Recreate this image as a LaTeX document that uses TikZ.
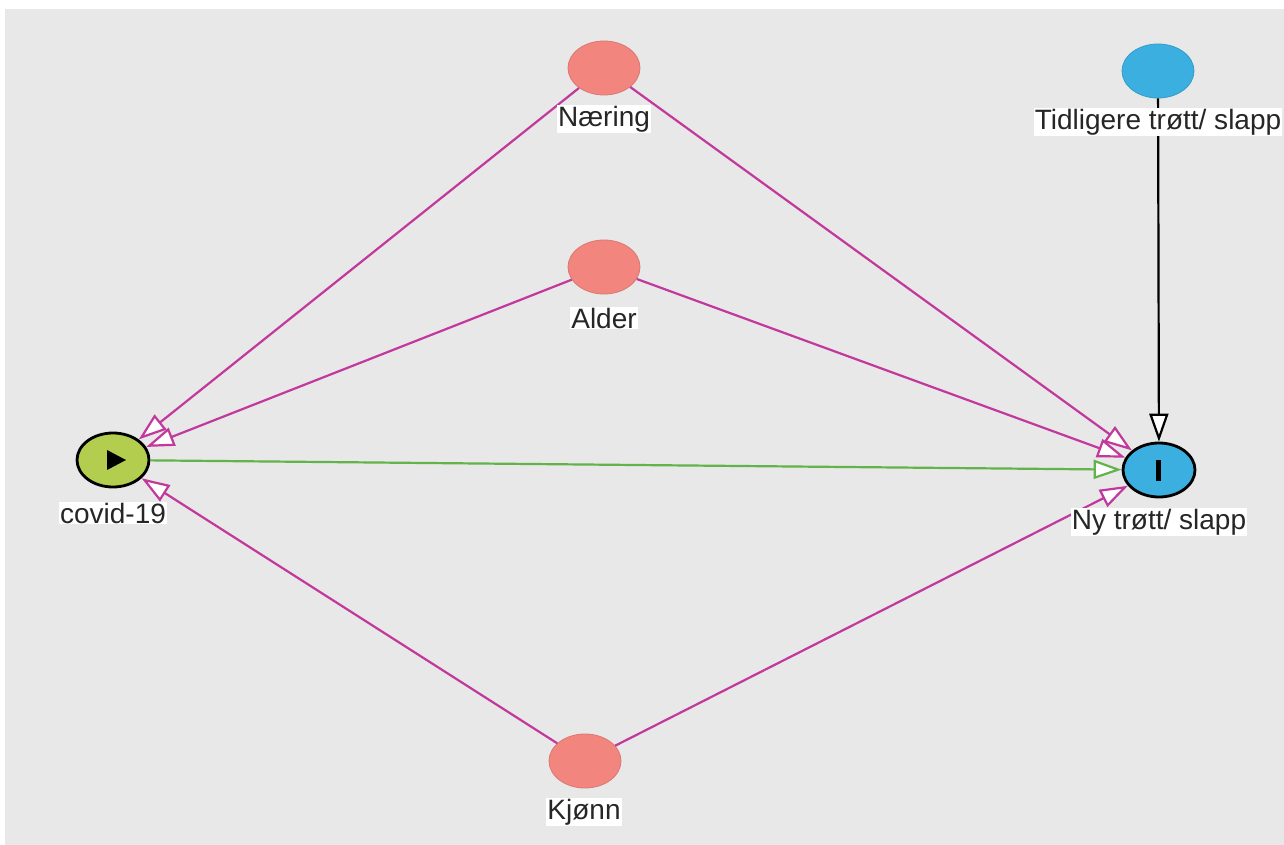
\documentclass[tikz,border=0pt]{standalone}
\usepackage{fontspec}
\setmainfont{Liberation Sans}
\usetikzlibrary{arrows.meta,shapes.geometric}
\definecolor{bggray}{HTML}{E7E8E7}
\definecolor{pinknode}{HTML}{F3857F}
\definecolor{bluenode}{HTML}{3AAFE0}
\definecolor{greennode}{HTML}{B3CD4E}
\definecolor{edgemag}{HTML}{C2389C}
\definecolor{edgegreen}{HTML}{62B34A}
\tikzset{
  varnode/.style={ellipse, minimum width=72pt, minimum height=54pt, inner sep=0pt},
  confnode/.style={varnode, fill=pinknode, draw=pinknode!90!black, line width=0.8pt},
  ancnode/.style={varnode, fill=bluenode, draw=bluenode!90!black, line width=0.8pt},
  expnode/.style={varnode, fill=greennode, draw=black, line width=2.8pt},
  outnode/.style={varnode, fill=bluenode, draw=black, line width=2.8pt},
  lbl/.style={fill=white, inner sep=1pt, font=\fontsize{28}{32}\selectfont, text=black!85},
  opentip/.style={-{Triangle[length=28pt,width=19pt,fill=white]}},
  biasedge/.style={draw=edgemag, line width=2.2pt, opentip},
  causaledge/.style={draw=edgegreen, line width=2.2pt, opentip},
  plainedge/.style={draw=black, line width=2.2pt, opentip}
}
\begin{document}
\begin{tikzpicture}[x=1pt,y=-1pt]
\useasboundingbox (0,0) rectangle (1284,845);
\fill[white] (0,0) rectangle (1284,845);
\fill[bggray] (5,9) rectangle (1284,845);

\node[confnode] (naering) at (604,68) {};
\node[confnode] (alder) at (604,267) {};
\node[confnode] (kjonn) at (585,761) {};
\node[ancnode] (tidl) at (1158,71) {};
\node[expnode] (covid) at (113,460) {};
\node[outnode] (ny) at (1159,470) {};

\fill[black] (107,450) -- (107,470) -- (126,460) -- cycle;
\fill[black] (1156,460) rectangle (1161,481);

\draw[biasedge] (naering) -- (covid);
\draw[biasedge] (naering) -- (ny);
\draw[biasedge] (alder) -- (covid);
\draw[biasedge] (alder) -- (ny);
\draw[biasedge] (kjonn) -- (covid);
\draw[biasedge] (kjonn) -- (ny);
\draw[causaledge] (covid) -- (ny);
\draw[plainedge] (tidl) -- (ny);

\node[lbl] (lnaering) at (604,119) {Næring};
\node[lbl] (lalder) at (604,318) {Alder};
\node[lbl] (lkjonn) at (584,812) {Kjønn};
\node[lbl] (ltidl) at (1158,122) {Tidligere trøtt/ slapp};
\node[lbl] (lcovid) at (113,513) {covid-19};
\node[lbl] (lny) at (1159,522) {Ny trøtt/ slapp};
\end{tikzpicture}
\end{document}
